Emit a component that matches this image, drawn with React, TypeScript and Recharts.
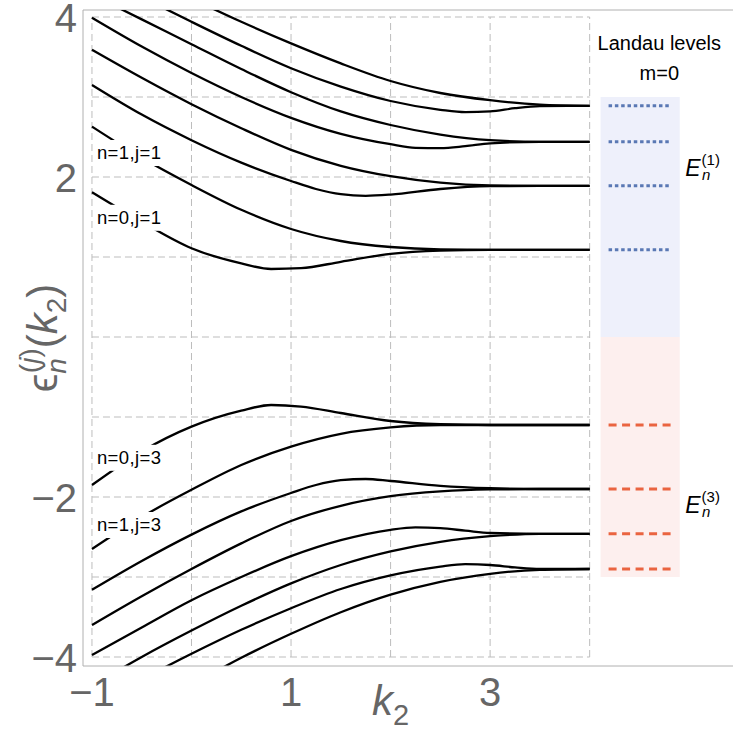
import React from 'react';
import { ComposedChart, Line, XAxis, YAxis, ReferenceLine, ReferenceArea, ReferenceDot } from 'recharts';

const FONT = '"Liberation Sans", Arial, sans-serif';

// axis ticks and the dashed grid
const kTicks = [-1, 1, 3];
const energyTicks = [-4, -2, 2, 4];
const gridK = [-1, 0, 1, 2, 3, 4];
const gridEnergy = [-4, -3, -2, -1, 0, 1, 2, 3, 4];

// Landau levels, m=0
const landauJ1 = [1.09, 1.89, 2.44, 2.89];
const landauJ3 = [-1.1, -1.9, -2.46, -2.9];

// j=1 branches, [k2, energy], top to bottom
const j1b1 = [[-1, 4.85], [-0.5, 4.53], [0, 4.23], [0.5, 3.94], [1, 3.67], [1.5, 3.42], [2, 3.2], [2.5, 3.05], [3, 2.96], [3.5, 2.905], [4, 2.89]];
const j1b2 = [[-1, 4.55], [-0.5, 4.25], [0, 3.94], [0.5, 3.64], [1, 3.36], [1.5, 3.13], [2, 2.95], [2.5, 2.84], [2.75, 2.81], [3, 2.82], [3.25, 2.86], [3.5, 2.885], [4, 2.89]];
const j1b3 = [[-1, 4.28], [-0.5, 3.97], [0, 3.66], [0.5, 3.35], [1, 3.06], [1.5, 2.82], [2, 2.65], [2.5, 2.53], [3, 2.46], [3.5, 2.44], [4, 2.44]];
const j1b4 = [[-1, 3.99], [-0.5, 3.63], [0, 3.3], [0.5, 3.0], [1, 2.74], [1.5, 2.54], [2, 2.41], [2.25, 2.365], [2.5, 2.36], [2.75, 2.385], [3, 2.42], [3.5, 2.44], [4, 2.44]];
const j1b5 = [[-1, 3.59], [-0.5, 3.24], [0, 2.91], [0.5, 2.61], [1, 2.34], [1.5, 2.14], [2, 2.01], [2.5, 1.93], [3, 1.895], [3.5, 1.89], [4, 1.89]];
const j1b6 = [[-1, 3.15], [-0.5, 2.78], [0, 2.46], [0.5, 2.18], [1, 1.95], [1.25, 1.85], [1.5, 1.785], [1.75, 1.765], [2, 1.78], [2.5, 1.85], [3, 1.885], [3.5, 1.89], [4, 1.89]];
const j1n1 = [[-1, 2.63], [-0.5, 2.24], [0, 1.9], [0.5, 1.59], [1, 1.35], [1.5, 1.2], [2, 1.125], [2.5, 1.095], [3, 1.09], [4, 1.09]];
const j1n0 = [[-1, 1.81], [-0.5, 1.44], [0, 1.11], [0.5, 0.92], [0.8, 0.85], [1.1, 0.86], [1.5, 0.94], [2, 1.04], [2.5, 1.08], [3, 1.09], [4, 1.09]];

// j=3 branches, top to bottom
const j3n0 = [[-1, -1.85], [-0.5, -1.43], [0, -1.12], [0.5, -0.92], [0.8, -0.85], [1.1, -0.87], [1.5, -0.95], [2, -1.05], [2.5, -1.09], [3, -1.1], [4, -1.1]];
const j3n1 = [[-1, -2.65], [-0.5, -2.25], [0, -1.91], [0.5, -1.6], [1, -1.37], [1.5, -1.21], [2, -1.13], [2.5, -1.1], [3, -1.1], [4, -1.1]];
const j3b3 = [[-1, -3.16], [-0.5, -2.8], [0, -2.47], [0.5, -2.18], [1, -1.95], [1.25, -1.85], [1.5, -1.79], [1.75, -1.775], [2, -1.8], [2.5, -1.86], [3, -1.89], [3.5, -1.9], [4, -1.9]];
const j3b4 = [[-1, -3.6], [-0.5, -3.24], [0, -2.9], [0.5, -2.58], [1, -2.3], [1.5, -2.11], [2, -1.99], [2.5, -1.93], [3, -1.905], [3.5, -1.9], [4, -1.9]];
const j3b5 = [[-1, -3.975], [-0.5, -3.63], [0, -3.29], [0.5, -3.0], [1, -2.74], [1.5, -2.54], [2, -2.41], [2.25, -2.38], [2.5, -2.39], [2.75, -2.42], [3, -2.45], [3.5, -2.46], [4, -2.46]];
const j3b6 = [[-1, -4.36], [-0.5, -4.0], [0, -3.67], [0.5, -3.36], [1, -3.08], [1.5, -2.85], [2, -2.68], [2.5, -2.56], [3, -2.49], [3.5, -2.46], [4, -2.46]];
const j3b7 = [[-1, -4.62], [-0.5, -4.28], [0, -3.96], [0.5, -3.66], [1, -3.39], [1.5, -3.15], [2, -2.98], [2.5, -2.87], [2.75, -2.84], [3, -2.85], [3.25, -2.88], [3.5, -2.9], [4, -2.9]];
const j3b8 = [[-1, -5.1], [-0.5, -4.72], [0, -4.35], [0.5, -4.01], [1, -3.71], [1.5, -3.44], [2, -3.22], [2.5, -3.06], [3, -2.96], [3.5, -2.91], [4, -2.9]];

const branches = [j1b1, j1b2, j1b3, j1b4, j1b5, j1b6, j1n1, j1n0, j3n0, j3n1, j3b3, j3b4, j3b5, j3b6, j3b7, j3b8]
  .map(pts => pts.map(([k, e]) => ({ k, e })));

const curveTags = [
  { text: 'n=1,j=1', k: -0.95, e: 2.3 },
  { text: 'n=0,j=1', k: -0.95, e: 1.49 },
  { text: 'n=0,j=3', k: -0.95, e: -1.51 },
  { text: 'n=1,j=3', k: -0.95, e: -2.35 },
];

const GRID = '#bdbdbd';
const AXIS = '#b0b0b0';
const fmt = (v: number) => (v < 0 ? '\u2212' + Math.abs(v) : String(v));

const YTick = (p: any) => (
  <text x={p.x} y={p.y + 15} textAnchor="end" fontSize={40} fill="#666" fontFamily={FONT}>{fmt(p.payload.value)}</text>
);
const XTick = (p: any) => (
  <text x={p.x} y={p.y + 40} textAnchor="middle" fontSize={40} fill="#666" fontFamily={FONT}>{fmt(p.payload.value)}</text>
);

const XLabel = ({ viewBox }: any) => (
  <text x={viewBox.x + 289} y={viewBox.y + 49} fontSize={42} fill="#666" fontFamily={FONT}>
    <tspan fontStyle="italic">k</tspan>
    <tspan fontSize={29} dy={10}>2</tspan>
  </text>
);

const YLabel = ({ viewBox }: any) => {
  const cx = viewBox.x + 57;
  const cy = viewBox.y + viewBox.height / 2;
  return (
    <text transform={`rotate(-90 ${cx} ${cy})`} x={cx} y={cy} textAnchor="middle" fontSize={42} fill="#666" fontFamily={FONT}>
      <tspan>ϵ</tspan>
      <tspan fontSize={28} fontStyle="italic" dy={9}>n</tspan>
      <tspan fontSize={28} dx={-15} dy={-27}>(</tspan>
      <tspan fontSize={28} fontStyle="italic">j</tspan>
      <tspan fontSize={28}>)</tspan>
      <tspan dy={18}>(</tspan>
      <tspan fontStyle="italic">k</tspan>
      <tspan fontSize={28} dy={9}>2</tspan>
      <tspan dy={-9}>)</tspan>
    </text>
  );
};

const CurveTag = ({ cx, cy, text }: any) => (
  <g>
    <rect x={cx - 3} y={cy - 13} width={74} height={26} fill="#fff" />
    <text x={cx} y={cy + 6} fontSize={18.5} letterSpacing={0.4} fill="#000" fontFamily={FONT}>{text}</text>
  </g>
);

const LevelName = ({ cx, cy, j }: any) => (
  <text x={cx} y={cy} fontFamily={FONT} fill="#000" fontSize={23}>
    <tspan fontStyle="italic">E</tspan>
    <tspan fontSize={15} dx={1} dy={-11}>({j})</tspan>
    <tspan fontSize={15} fontStyle="italic" dx={-18} dy={15}>n</tspan>
  </text>
);

const Header = ({ cx, cy }: any) => (
  <g fontFamily={FONT} fill="#000" fontSize={20} textAnchor="middle">
    <text x={cx} y={cy}>Landau levels</text>
    <text x={cx} y={cy + 30}>m=0</text>
  </g>
);

export default function App() {
  return (
    <div style={{ position: 'absolute', left: 0, top: 0 }}>
      <ComposedChart width={733} height={740} margin={{ top: 10, right: 0, bottom: 0, left: 0 }}>
        <XAxis
          type="number"
          dataKey="k"
          domain={[-1.09, 5.44]}
          allowDataOverflow
          ticks={kTicks}
          interval={0}
          height={74}
          tickLine={false}
          tickSize={0}
          tickMargin={0}
          axisLine={{ stroke: AXIS }}
          tick={<XTick />}
          label={{ content: (p: any) => <XLabel viewBox={p.viewBox} /> }}
        />
        <YAxis
          type="number"
          domain={[-4.1125, 4.0875]}
          allowDataOverflow
          ticks={energyTicks}
          interval={0}
          width={83}
          tickLine={false}
          tickSize={0}
          tickMargin={6}
          axisLine={{ stroke: AXIS }}
          tick={<YTick />}
          label={{ content: (p: any) => <YLabel viewBox={p.viewBox} /> }}
        />
        <ReferenceLine y={4.0875} stroke={AXIS} ifOverflow="visible" />

        {gridEnergy.map(e => (
          <ReferenceLine key={'h' + e} segment={[{ x: -1, y: e }, { x: 4, y: e }]} stroke={GRID} strokeDasharray="7 4" ifOverflow="visible" />
        ))}
        {gridK.map(k => (
          <ReferenceLine key={'v' + k} segment={[{ x: k, y: -4 }, { x: k, y: 4 }]} stroke={GRID} strokeDasharray="7 4" ifOverflow="visible" />
        ))}

        <ReferenceArea x1={4.11} x2={4.905} y1={0} y2={3} fill="#eef0fb" fillOpacity={1} stroke="none" />
        <ReferenceArea x1={4.11} x2={4.905} y1={-3} y2={0} fill="#fdefee" fillOpacity={1} stroke="none" />
        {landauJ1.map(e => (
          <ReferenceLine key={'l1' + e} segment={[{ x: 4.19, y: e }, { x: 4.82, y: e }]} stroke="#5a78b4" strokeWidth={3} strokeDasharray="3.5 2.8" />
        ))}
        {landauJ3.map(e => (
          <ReferenceLine key={'l3' + e} segment={[{ x: 4.19, y: e }, { x: 4.82, y: e }]} stroke="#ea6440" strokeWidth={3} strokeDasharray="8 5.5" />
        ))}

        {branches.map((d, i) => (
          <Line key={i} data={d} dataKey="e" type="monotone" stroke="#000" strokeWidth={2.3} dot={false} activeDot={false} isAnimationActive={false} />
        ))}

        {curveTags.map(t => (
          <ReferenceDot key={t.text} x={t.k} y={t.e} r={0} ifOverflow="visible"
            shape={(p: any) => <CurveTag cx={p.cx} cy={p.cy} text={t.text} />} />
        ))}
        <ReferenceDot x={4.7} y={3.59} r={0} ifOverflow="visible" shape={(p: any) => <Header cx={p.cx} cy={p.cy} />} />
        <ReferenceDot x={4.96} y={2.01} r={0} ifOverflow="visible" shape={(p: any) => <LevelName cx={p.cx} cy={p.cy} j={1} />} />
        <ReferenceDot x={4.96} y={-2.2} r={0} ifOverflow="visible" shape={(p: any) => <LevelName cx={p.cx} cy={p.cy} j={3} />} />
      </ComposedChart>
    </div>
  );
}
